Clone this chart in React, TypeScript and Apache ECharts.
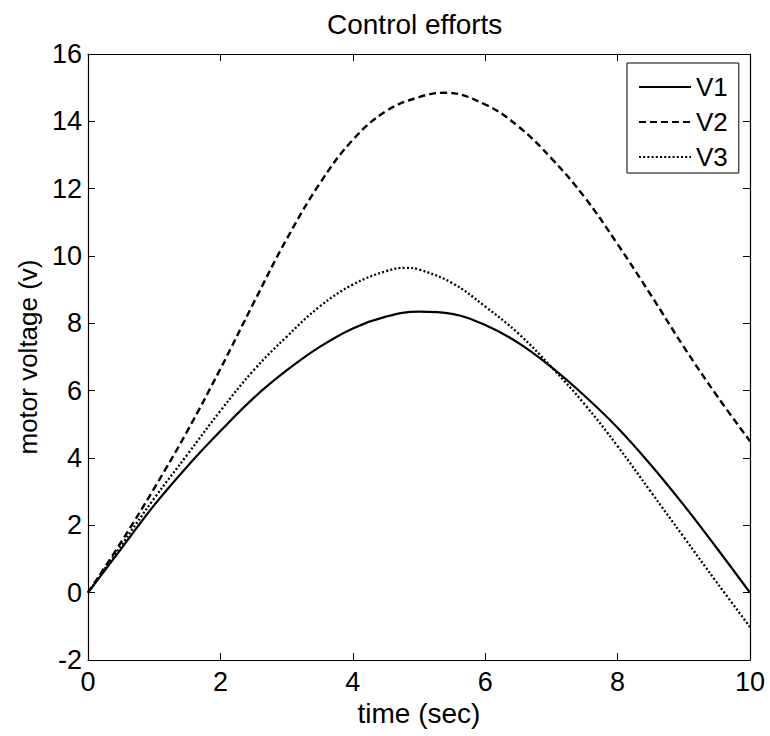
import React, { useEffect, useRef } from "react";
import * as echarts from "echarts";

const timeV1 = [0, 0.5, 1, 1.5, 2, 2.5, 3, 3.5, 4, 4.5, 5, 5.5, 6, 6.5, 7, 7.5, 8, 8.5, 9, 9.5, 10];
const valuesV1 = [0, 1.3, 2.6, 3.75, 4.8, 5.78, 6.6, 7.3, 7.85, 8.2, 8.35, 8.28, 7.95, 7.42, 6.7, 5.85, 4.9, 3.8, 2.6, 1.32, 0];

const timeV2 = [0, 0.5, 1, 1.5, 2, 2.5, 3, 3.5, 4, 4.5, 5, 5.4, 6, 6.5, 7, 7.5, 8, 8.5, 9, 9.5, 10];
const valuesV2 = [0, 1.5, 3.1, 4.8, 6.65, 8.6, 10.5, 12.15, 13.45, 14.3, 14.72, 14.85, 14.5, 13.85, 12.9, 11.75, 10.35, 8.85, 7.3, 5.85, 4.5];

const timeV3 = [0, 0.5, 1, 1.5, 2, 2.5, 3, 3.5, 4, 4.5, 4.8, 5, 5.5, 6, 6.5, 7, 7.5, 8, 8.5, 9, 9.5, 10];
const valuesV3 = [0, 1.4, 2.8, 4.1, 5.4, 6.6, 7.6, 8.5, 9.15, 9.55, 9.65, 9.6, 9.2, 8.5, 7.7, 6.7, 5.6, 4.35, 3.0, 1.65, 0.3, -1.02];

const seriesNames = ["V1", "V2", "V3"];
const titleText = "Control efforts";
const xName = "time (sec)";
const yName = "motor voltage (v)";

const FONT = "Liberation Sans, Arial, Helvetica, sans-serif";

export default function App() {
  const ref = useRef<HTMLDivElement>(null);
  useEffect(() => {
    document.body.style.margin = "0";
    if (!ref.current) return;
    const chart = echarts.init(ref.current, undefined, { renderer: "svg" });
    const pair = (ts: number[], vs: number[]) => ts.map((t, i) => [t, vs[i]]);
    const axisCommon = {
      axisLine: { show: true, onZero: false, lineStyle: { color: "#000", width: 1.2 } },
      axisTick: { show: true, inside: true, length: 7, lineStyle: { color: "#000", width: 1 } },
      splitLine: { show: false },
    };
    chart.setOption({
      animation: false,
      backgroundColor: "#fff",
      textStyle: { fontFamily: FONT, color: "#000" },
      title: {
        text: titleText,
        left: 322,
        top: 5,
        textStyle: { fontFamily: FONT, fontSize: 28, fontWeight: "normal", color: "#000" },
      },
      grid: { left: 88, right: 20, top: 54, bottom: 76, containLabel: false },
      legend: {
        data: seriesNames,
        orient: "vertical",
        left: 627,
        top: 63,
        backgroundColor: "#fff",
        borderColor: "#000",
        borderWidth: 1,
        borderRadius: 0,
        padding: [11, 11, 3, 11],
        itemWidth: 52,
        itemHeight: 20,
        itemGap: 9,
        itemStyle: { opacity: 0 },
        textStyle: { fontFamily: FONT, fontSize: 26, lineHeight: 26, color: "#000" },
      },
      xAxis: [
        {
          type: "value",
          min: 0,
          max: 10,
          interval: 2,
          name: xName,
          nameLocation: "middle",
          nameGap: 35,
          nameTextStyle: { fontFamily: FONT, fontSize: 28, color: "#000" },
          axisLabel: { fontFamily: FONT, fontSize: 27, color: "#000", margin: 8 },
          ...axisCommon,
        },
        {
          type: "value",
          position: "top",
          min: 0,
          max: 10,
          interval: 2,
          axisLabel: { show: false },
          ...axisCommon,
        },
      ],
      yAxis: [
        {
          type: "value",
          min: -2,
          max: 16,
          interval: 2,
          name: yName,
          nameLocation: "middle",
          nameGap: 46,
          nameTextStyle: { fontFamily: FONT, fontSize: 26, color: "#000" },
          axisLabel: { fontFamily: FONT, fontSize: 27, color: "#000", margin: 6 },
          ...axisCommon,
        },
        {
          type: "value",
          position: "right",
          min: -2,
          max: 16,
          interval: 2,
          axisLabel: { show: false },
          ...axisCommon,
        },
      ],
      series: [
        {
          name: "V1",
          type: "line",
          data: pair(timeV1, valuesV1),
          smooth: 0.4,
          showSymbol: false,
          symbol: "none",
          lineStyle: { color: "#000", width: 2.2, type: "solid" },
          itemStyle: { color: "#000" },
        },
        {
          name: "V2",
          type: "line",
          data: pair(timeV2, valuesV2),
          smooth: 0.4,
          showSymbol: false,
          symbol: "none",
          lineStyle: { color: "#000", width: 2.4, type: [7, 4] },
          itemStyle: { color: "#000" },
        },
        {
          name: "V3",
          type: "line",
          data: pair(timeV3, valuesV3),
          smooth: 0.4,
          showSymbol: false,
          symbol: "none",
          lineStyle: { color: "#000", width: 2.3, type: [2, 2.2] },
          itemStyle: { color: "#000" },
        },
      ],
    });
    return () => chart.dispose();
  }, []);
  return <div ref={ref} style={{ width: 770, height: 736 }} />;
}
